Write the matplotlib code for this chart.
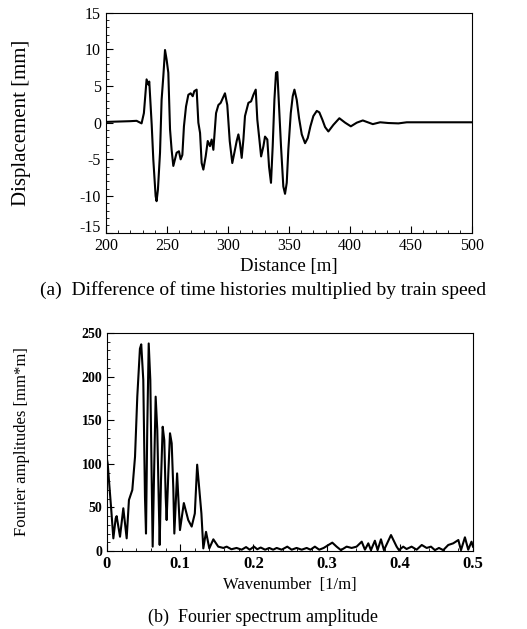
import numpy as np
import matplotlib.pyplot as plt
import matplotlib.transforms as mtransforms
from matplotlib.ticker import MultipleLocator

plt.rcParams['font.family'] = ['Liberation Serif', 'DejaVu Serif']
plt.rcParams['axes.unicode_minus'] = False

# (a) displacement x train speed vs distance
distance = [200, 210, 219.7, 225.1, 229.2, 231.1, 233.3, 234.7, 235.5, 237.5,
            238.8, 240.7, 241.5, 242.6, 244.3, 245.6, 247.0, 248.4, 249.7, 251.1,
            252.5, 253.8, 255.2, 257.9, 259.8, 261.2, 262.6, 263.9, 265.6, 267.5,
            269.4, 271.1, 272.4, 274.3, 275.7, 277.1, 278.4, 279.8, 281.7, 283.4,
            285.2, 286.6, 288.0, 290.2, 292.1, 294.0, 297.5, 299.4, 301.4, 303.5,
            305.2, 307.1, 308.5, 309.8, 311.2, 312.6, 313.9, 315.3, 316.7, 318.9,
            320.8, 322.7, 324.0, 325.7, 327.1, 329.0, 330.3, 332.2, 333.6, 335.2,
            336.6, 338.0, 339.3, 340.4, 341.8, 343.4, 345.3, 346.7, 348.1, 349.4,
            351.4, 353.0, 354.4, 356.3, 358.2, 360.4, 363.1, 365.3, 367.5, 369.9,
            372.7, 374.8, 377.3, 379.5, 382.2, 386.3, 391.2, 395.9, 400.6, 405.5,
            410.4, 418.6, 424.6, 431.4, 439.6, 446.4, 465.6, 500]
displacement = [0.1, 0.15, 0.2, 0.25, -0.1, 1.3, 5.9, 5.2, 5.6, -0.3,
                -5.0, -10.0, -10.7, -9.1, -4.1, 3.1, 6.3, 9.9, 8.6, 6.8,
                -0.9, -3.7, -5.9, -4.1, -3.9, -5.0, -4.4, -0.5, 2.2, 3.8,
                4.0, 3.6, 4.3, 4.5, 0.0, -1.4, -5.5, -6.4, -4.6, -2.5,
                -3.2, -2.3, -3.7, 1.3, 2.4, 2.7, 4.0, 2.4, -2.5, -5.5,
                -4.1, -2.5, -1.6, -2.8, -4.8, -2.3, 0.9, 1.8, 2.7, 2.9,
                3.8, 4.5, 0.4, -2.3, -4.6, -3.2, -1.9, -2.3, -6.0, -8.2,
                -3.2, 3.1, 6.8, 6.9, 2.2, -3.2, -8.7, -9.7, -8.2, -3.7,
                1.3, 3.6, 4.5, 3.1, 0.6, -1.6, -2.8, -2.1, -0.5, 0.9,
                1.6, 1.4, 0.4, -0.6, -1.2, -0.3, 0.6, 0.0, -0.5, 0.0,
                0.3, -0.2, 0.05, -0.05, -0.1, 0.05, 0.05, 0.05]

# (b) Fourier amplitude vs wavenumber
wavenumber = [0, 0.001, 0.0027, 0.0055, 0.0087, 0.0119, 0.0132, 0.0178, 0.0223, 0.0269,
              0.030, 0.0346, 0.0383, 0.0414, 0.045, 0.0468, 0.0496, 0.0519, 0.0533, 0.055,
              0.057, 0.0592, 0.0611, 0.0624, 0.0646, 0.0665, 0.0687, 0.0706, 0.072, 0.0738,
              0.0761, 0.0783, 0.0802, 0.0815, 0.0838, 0.0861, 0.0884, 0.0906, 0.092, 0.0958,
              0.0997, 0.105, 0.111, 0.1157, 0.120, 0.1232, 0.129, 0.1316, 0.1353, 0.1398,
              0.1453, 0.152, 0.159, 0.1635, 0.170, 0.177, 0.184, 0.190, 0.195, 0.2008,
              0.2053, 0.210, 0.216, 0.2217, 0.227, 0.2318, 0.2386, 0.2463, 0.2523, 0.259,
              0.266, 0.2728, 0.278, 0.284, 0.290, 0.296, 0.3078, 0.3137, 0.3196, 0.3274,
              0.3342, 0.341, 0.348, 0.3524, 0.357, 0.3606, 0.366, 0.3697, 0.3743, 0.3784,
              0.388, 0.3957, 0.3989, 0.4047, 0.4093, 0.4161, 0.423, 0.430, 0.4367, 0.4426,
              0.448, 0.4535, 0.4594, 0.4662, 0.473, 0.480, 0.4836, 0.489, 0.4935, 0.498,
              0.5]
amplitude = [105, 100, 81, 51, 14.5, 37.5, 40, 16.4, 49, 14.5,
             58.5, 70, 108, 177, 232, 237, 196, 62, 20, 139,
             238, 196, 81, 5, 100, 177, 139, 62, 7, 81,
             142.5, 127, 62, 35.5, 89, 135, 123.5, 72, 20, 89,
             24, 55, 35.5, 28, 43, 99, 43, 3, 22, 3,
             13.4, 5, 3.5, 5, 2, 3.5, 1.5, 4.5, 1.5, 5,
             2, 4, 1.5, 3.5, 1.5, 3.5, 1.5, 5, 1.5, 3.5,
             1.5, 3.5, 1.5, 5, 1.5, 3.5, 9.6, 5, 1, 5,
             3.5, 5, 10.7, 1.5, 8.8, 1, 11.8, 1, 13.4, 1,
             18.3, 5, 1, 5, 2.3, 5, 1.5, 6.9, 3.5, 5,
             1, 3.5, 1, 6.9, 8.8, 12.6, 1, 15.7, 1.5, 10.7,
             5]

fig = plt.figure(figsize=(5.27, 6.29), dpi=100)
ax1 = fig.add_axes([0.201, 0.630, 0.695, 0.350])
ax2 = fig.add_axes([0.203, 0.124, 0.6945, 0.3466])

# top panel
ax1.plot(distance, displacement, color='black', lw=1.5)
ax1.set_xlim(200, 500)
ax1.set_ylim(-15, 15)
ax1.xaxis.set_major_locator(MultipleLocator(50))
ax1.xaxis.set_minor_locator(MultipleLocator(10))
ax1.set_yticks([-15, -10, -5, 0, 5, 10, 15])
ax1.yaxis.set_minor_locator(MultipleLocator(1))
ax1.tick_params(which='both', direction='in', labelsize=11.5)
ax1.tick_params(which='major', length=5)
ax1.tick_params(which='minor', length=2.5)
ax1.set_xlabel("Distance [m]", fontsize=13.5)
ax1.set_ylabel("Displacement [mm]", fontsize=15)
ax1.xaxis.set_label_coords(0.5, -0.115)
ax1.yaxis.set_label_coords(-0.205, 0.5)
# the "-15" label sits a little above the corner, clear of "200"
low = ax1.get_yticklabels()[0]
low.set_transform(low.get_transform() + mtransforms.ScaledTranslation(0, 5 / 72, fig.dpi_scale_trans))

# bottom panel
ax2.plot(wavenumber, amplitude, color='black', lw=1.5)
ax2.set_xlim(0, 0.5)
ax2.set_ylim(0, 250)
ax2.xaxis.set_minor_locator(MultipleLocator(0.02))
ax2.yaxis.set_major_locator(MultipleLocator(50))
ax2.yaxis.set_minor_locator(MultipleLocator(10))
ax2.set_xticks([0, 0.1, 0.2, 0.3, 0.4, 0.5])
ax2.set_xticklabels(["0", "0.1", "0.2", "0.3", "0.4", "0.5"], fontweight='bold', fontsize=12)
for lbl in ax2.get_yticklabels():
    lbl.set_fontweight('bold')
ax2.tick_params(which='both', direction='in')
ax2.tick_params(axis='y', labelsize=10)
ax2.tick_params(which='major', length=5)
ax2.tick_params(which='minor', length=2.5)
ax2.set_xlabel("Wavenumber  [1/m]", fontsize=12)
ax2.set_ylabel("Fourier amplitudes [mm*m]", fontsize=12)
ax2.xaxis.set_label_coords(0.5, -0.12)
ax2.yaxis.set_label_coords(-0.21, 0.5)

fig.text(0.5, 0.539, "(a)  Difference of time histories multiplied by train speed",
         ha='center', va='center', fontsize=14)
fig.text(0.5, 0.018, "(b)  Fourier spectrum amplitude",
         ha='center', va='center', fontsize=13)

plt.savefig("out.png", dpi=100)
